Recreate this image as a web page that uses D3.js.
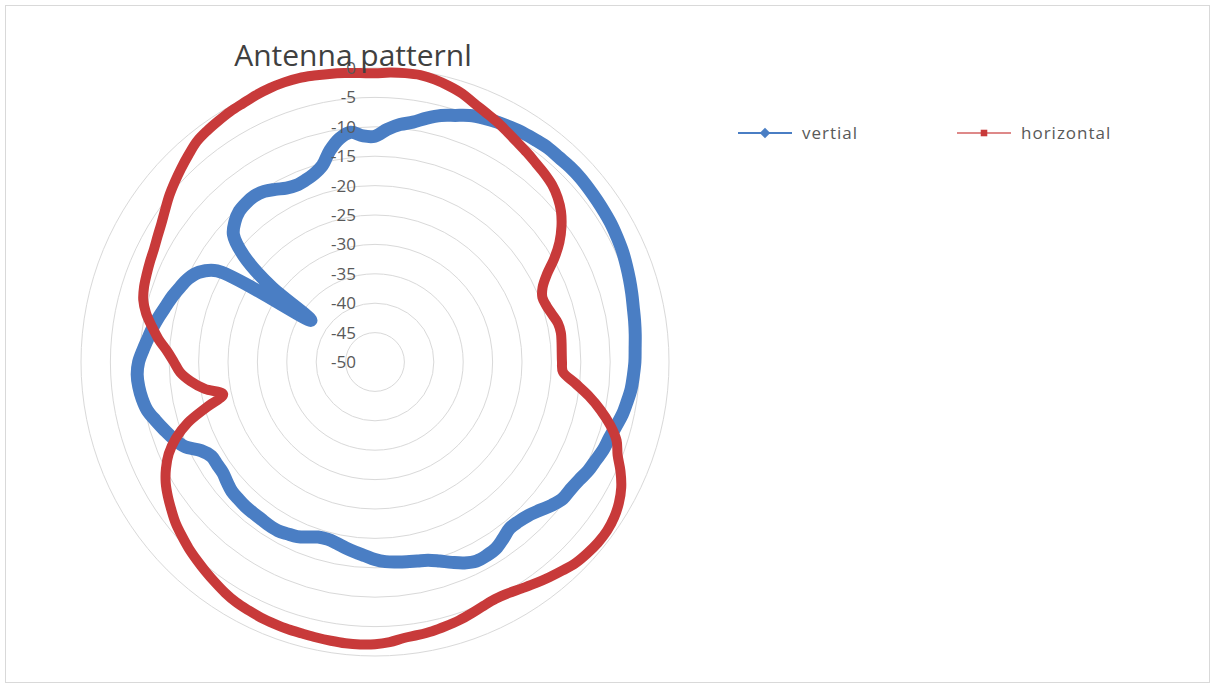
<!DOCTYPE html>
<html lang="en">
<head>
<meta charset="UTF-8">
<title>Antenna patternl</title>
<script src="https://d3js.org/d3.v7.min.js"></script>
<style>
  body { margin: 0; background: #fff; font-family: "Open Sans", sans-serif; }
  svg { display: block; }
</style>
</head>
<body>
<div id="vis"></div>
<script>
  // categories: one every 3 degrees, clockwise from the top
  const angles = d3.range(0, 360, 3);

  const vertial = [
    -11.6, -10.4, -9.4, -8.7, -7.6, -6.6, -5.9, -5.1, -4.6, -4.2,
    -3.9, -3.6, -3.4, -3.2, -3.2, -3.1, -3.1, -3.2, -3.3, -3.4,
    -3.5, -3.7, -3.9, -4.2, -4.5, -4.8, -5.1, -5.3, -5.5, -5.7,
    -5.8, -6.0, -6.2, -6.6, -7.0, -7.6, -8.1, -8.4, -8.9, -9.3,
    -9.9, -10.3, -10.5, -11.3, -12.3, -13.1, -13.5, -13.6, -12.9, -12.2,
    -12.0, -12.0, -12.6, -13.5, -14.4, -15.1, -15.4, -15.6, -15.8, -16.0,
    -16.4, -17.0, -17.5, -18.0, -18.5, -18.8, -18.7, -18.1, -17.5, -17.2,
    -16.9, -16.9, -17.0, -17.0, -17.0, -17.1, -17.2, -17.6, -18.0, -18.0,
    -17.9, -16.8, -14.6, -13.4, -12.4, -11.4, -10.4, -9.9, -9.6, -9.5,
    -9.8, -10.5, -11.2, -11.8, -12.5, -13.2, -13.8, -14.5, -15.2, -16.4,
    -19.0, -37.0, -28.0, -21.3, -17.6, -16.3, -15.5, -15.2, -15.1, -15.4,
    -16.1, -16.8, -17.1, -16.9, -16.4, -15.4, -13.2, -11.5, -10.7, -11.5
  ];

  const horizontal = [
    -0.9, -0.7, -0.6, -0.6, -0.9, -1.4, -2.0, -2.9, -3.6, -4.2,
    -4.9, -5.5, -6.0, -6.5, -6.9, -7.4, -8.2, -9.3, -10.8, -12.6,
    -14.8, -17.2, -18.8, -19.5, -19.3, -18.8, -18.2, -18.0, -18.1, -18.2,
    -18.2, -18.0, -15.8, -13.2, -10.8, -8.6, -6.8, -5.8, -4.3, -3.0,
    -2.1, -1.5, -1.2, -1.2, -1.4, -1.7, -2.3, -2.9, -3.5, -4.1,
    -4.6, -4.8, -4.6, -4.2, -3.8, -3.5, -3.2, -3.0, -2.8, -2.3,
    -2.0, -1.9, -1.9, -2.0, -2.1, -2.2, -2.2, -2.3, -2.4, -2.6,
    -2.8, -3.2, -3.7, -4.2, -4.7, -5.2, -5.8, -6.4, -7.2, -8.0,
    -8.9, -10.1, -11.6, -13.7, -16.5, -20.4, -23.6, -20.7, -18.5, -16.8,
    -15.8, -14.6, -13.0, -11.6, -10.2, -9.2, -8.7, -8.4, -8.1, -7.8,
    -7.3, -6.7, -5.9, -5.0, -4.2, -3.4, -2.6, -1.8, -1.4, -1.1,
    -0.8, -0.6, -0.3, -0.1, 0.0, 0.0, -0.2, -0.4, -0.6, -0.8
  ];

  const ringTicks = [0, -5, -10, -15, -20, -25, -30, -35, -40, -45, -50];
  const seriesNames = ["vertial", "horizontal"];
  const seriesColors = ["#4a7ec4", "#c83a3a"];

  const width = 1215, height = 691;
  const cx = 375, cy = 362, radius = 294;

  const svg = d3.select("#vis").append("svg")
    .attr("width", width)
    .attr("height", height);

  // chart border
  svg.append("rect")
    .attr("x", 5.5).attr("y", 5.5)
    .attr("width", 1204).attr("height", 677)
    .attr("fill", "#fff")
    .attr("stroke", "#d9d9d9");

  const r = d3.scaleLinear().domain([-50, 0]).range([0, radius]);
  const a = d3.scaleLinear().domain([0, 360]).range([0, 2 * Math.PI]);

  const g = svg.append("g").attr("transform", `translate(${cx},${cy})`);

  // rings
  g.selectAll("circle.ring")
    .data(ringTicks.filter(t => t > -50))
    .enter().append("circle")
    .attr("class", "ring")
    .attr("r", d => r(d))
    .attr("fill", "none")
    .attr("stroke", "#d9d9d9")
    .attr("stroke-width", 1);

  const line = d3.lineRadial()
    .angle((d, i) => a(angles[i]))
    .radius(d => r(d))
    .curve(d3.curveCatmullRomClosed.alpha(0.5));

  [vertial, horizontal].forEach((vals, k) => {
    g.append("path")
      .datum(vals)
      .attr("d", line)
      .attr("fill", "none")
      .attr("stroke", seriesColors[k])
      .attr("stroke-width", k === 0 ? 13 : 10)
      .attr("stroke-linejoin", "round");
  });

  // title
  svg.append("text")
    .attr("x", 353)
    .attr("y", 66)
    .attr("text-anchor", "middle")
    .style("font-size", "30px")
    .attr("fill", "#404040")
    .text("Antenna patternl");

  // value axis labels
  g.selectAll("text.tick")
    .data(ringTicks)
    .enter().append("text")
    .attr("class", "tick")
    .attr("x", -19)
    .attr("y", d => -r(d))
    .attr("dy", "0.35em")
    .attr("text-anchor", "end")
    .style("font-size", "17px")
    .attr("fill", "#595959")
    .text(d => d);

  // legend
  const legendX = [738, 957];
  const legend = svg.selectAll("g.legend")
    .data(seriesNames)
    .enter().append("g")
    .attr("class", "legend")
    .attr("transform", (d, i) => `translate(${legendX[i]},133)`);

  legend.append("line")
    .attr("x1", 0).attr("x2", 54)
    .attr("stroke", (d, i) => seriesColors[i])
    .attr("stroke-opacity", (d, i) => i === 0 ? 1 : 0.6)
    .attr("stroke-width", 2);

  legend.append("path")
    .attr("transform", "translate(27,0)")
    .attr("d", (d, i) => d3.symbol(i === 0 ? d3.symbolDiamond2 : d3.symbolSquare2, i === 0 ? 70 : 55)())
    .attr("fill", (d, i) => seriesColors[i]);

  legend.append("text")
    .attr("x", 64)
    .attr("dy", "0.35em")
    .style("font-size", "17px")
    .style("letter-spacing", "1px")
    .attr("fill", "#595959")
    .text(d => d);
</script>
</body>
</html>
